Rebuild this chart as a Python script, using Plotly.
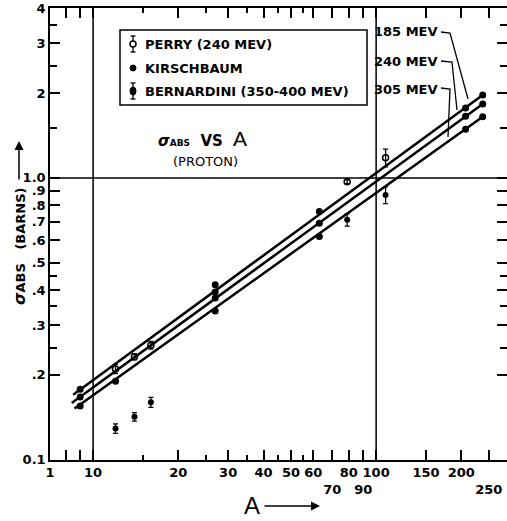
import math
import plotly.graph_objects as go

# ---------------- data ----------------
kir_A = [9, 9, 9, 12, 27, 27, 27, 27, 63, 63, 63, 207, 207, 207, 238, 238, 238]
kir_sigma = [0.178, 0.167, 0.155, 0.19, 0.418, 0.394, 0.375, 0.337,
             0.76, 0.69, 0.62, 1.77, 1.655, 1.49, 1.97, 1.83, 1.65]

perry_A = [12, 14, 16, 79, 108]
perry_sigma = [0.21, 0.232, 0.255, 0.97, 1.18]
perry_err = [0.008, 0.006, 0.008, 0.015, 0.085]

bern_A = [12, 14, 16, 79, 108]
bern_sigma = [0.129, 0.142, 0.160, 0.71, 0.87]
bern_err = [0.005, 0.005, 0.0065, 0.035, 0.06]

legend_labels = ["PERRY (240 MEV)", "KIRSCHBAUM", "BERNARDINI (350-400 MEV)"]

fit_labels = ["185 MEV", "240 MEV", "305 MEV"]
fit_A = [[8.5, 238], [8.4, 238], [8.6, 238]]
fit_sigma = [[0.170, 1.97], [0.159, 1.83], [0.152, 1.65]]

x_tickvals = [7.05, 8, 9, 10, 20, 30, 40, 50, 60, 70, 80, 90, 100, 150, 200, 250]
x_ticktext = ["1", "", "", "10", "20", "30", "40", "50", "60", "<br>70", "80",
              "<br>90", "100", "150", "200", "<br>250"]
x_minor = [15, 25, 35, 45, 55]

y_tickvals = [0.1, 0.2, 0.3, 0.4, 0.5, 0.6, 0.7, 0.8, 0.9, 1, 2, 3, 4]
y_ticktext = ["0.1", ".2", ".3", ".4", ".5", ".6", ".7", ".8", ".9", "1.0", "2", "3", "4"]
y_minor = [0.25, 0.35, 0.45, 1.5, 2.5, 3.5]

grid_A = [10, 100]
grid_sigma = [1.0]

x_min, x_max = 7.05, 290
y_min, y_max = 0.1, 4

# ---------------- layout helpers ----------------
W, H = 507, 521
ML, MR, MT, MB = 50, 0, 8, 61
PW, PH = W - ML - MR, H - MT - MB


def px(x):
    return (x - ML) / PW


def py(y):
    return (H - MB - y) / PH


FONT = "DejaVu Sans"
BOLD = dict(family=FONT, size=13, color="black", weight="bold")
fig = go.Figure()

# grid lines at 10, 100 and 1.0
for a in grid_A:
    fig.add_trace(go.Scatter(x=[a, a], y=[y_min * 0.99, y_max * 1.01], mode="lines",
                             line=dict(color="black", width=1.5), showlegend=False,
                             hoverinfo="skip"))
for s in grid_sigma:
    fig.add_trace(go.Scatter(x=[x_min * 0.99, x_max * 1.01], y=[s, s], mode="lines",
                             line=dict(color="black", width=1.5), showlegend=False,
                             hoverinfo="skip"))

# fit lines
for lab, xa, ys in zip(fit_labels, fit_A, fit_sigma):
    fig.add_trace(go.Scatter(x=xa, y=ys, mode="lines", name=lab,
                             line=dict(color="black", width=2.5), showlegend=False))

# data
fig.add_trace(go.Scatter(
    x=perry_A, y=perry_sigma, mode="markers", name=legend_labels[0], showlegend=False,
    marker=dict(symbol="circle-open", size=6, color="black", line=dict(width=1.5)),
    error_y=dict(type="data", array=perry_err, color="black", thickness=1.3, width=2.5)))
fig.add_trace(go.Scatter(
    x=kir_A, y=kir_sigma, mode="markers", name=legend_labels[1], showlegend=False,
    marker=dict(symbol="circle", size=7, color="black")))
fig.add_trace(go.Scatter(
    x=bern_A, y=bern_sigma, mode="markers", name=legend_labels[2], showlegend=False,
    marker=dict(symbol="circle", size=6, color="black"),
    error_y=dict(type="data", array=bern_err, color="black", thickness=1.3, width=2.5)))

axis_common = dict(
    type="log", showgrid=False, zeroline=False, showline=True, linecolor="black",
    linewidth=1.5, mirror="ticks", ticks="inside", ticklen=10, tickwidth=1.5,
    tickcolor="black", tickmode="array", automargin=False, tickangle=0,
    tickfont=dict(family=FONT, size=13, color="black", weight="bold"),
)

fig.update_xaxes(
    **axis_common,
    range=[math.log10(x_min) - 0.0005, math.log10(x_max)],
    tickvals=x_tickvals, ticktext=x_ticktext,
    minor=dict(tickmode="array", tickvals=x_minor, ticks="inside", ticklen=5,
               tickwidth=1.5, tickcolor="black"),
)
fig.update_yaxes(
    **axis_common,
    range=[math.log10(y_min) - 0.001, math.log10(y_max) + 0.001],
    tickvals=y_tickvals, ticktext=y_ticktext,
    minor=dict(tickmode="array", tickvals=y_minor, ticks="inside", ticklen=7,
               tickwidth=1.5, tickcolor="black"),
)

annotations = []
shapes = []


def note(x, y, text, font, xanchor="center", **kw):
    d = dict(x=px(x), y=py(y), xref="paper", yref="paper", text=text,
             showarrow=False, font=font, xanchor=xanchor, yanchor="middle")
    d.update(kw)
    annotations.append(d)


# ---- manual legend box ----
shapes.append(dict(type="rect", xref="paper", yref="paper",
                   x0=px(120), x1=px(367), y0=py(105), y1=py(30),
                   line=dict(color="black", width=1.5), fillcolor="white", layer="above"))
leg_rows = [44, 68, 91]
for lab, yy in zip(legend_labels, leg_rows):
    note(143, yy, lab, BOLD, xanchor="left")
sx = 133
# Perry symbol: open circle with error bar
shapes.append(dict(type="line", xref="paper", yref="paper", x0=px(sx), x1=px(sx),
                   y0=py(36), y1=py(52), line=dict(color="black", width=1.3)))
for yy in (36, 52):
    shapes.append(dict(type="line", xref="paper", yref="paper", x0=px(sx - 2.5),
                       x1=px(sx + 2.5), y0=py(yy), y1=py(yy),
                       line=dict(color="black", width=1.3)))
shapes.append(dict(type="circle", xref="paper", yref="paper", x0=px(sx - 3),
                   x1=px(sx + 3), y0=py(41), y1=py(47), fillcolor="white",
                   line=dict(color="black", width=1.5)))
# Kirschbaum symbol
shapes.append(dict(type="circle", xref="paper", yref="paper", x0=px(sx - 3),
                   x1=px(sx + 3), y0=py(65), y1=py(71), fillcolor="black",
                   line=dict(color="black", width=1)))
# Bernardini symbol
shapes.append(dict(type="line", xref="paper", yref="paper", x0=px(sx), x1=px(sx),
                   y0=py(83), y1=py(99), line=dict(color="black", width=1.3)))
for yy in (83, 99):
    shapes.append(dict(type="line", xref="paper", yref="paper", x0=px(sx - 2.5),
                       x1=px(sx + 2.5), y0=py(yy), y1=py(yy),
                       line=dict(color="black", width=1.3)))
shapes.append(dict(type="circle", xref="paper", yref="paper", x0=px(sx - 3),
                   x1=px(sx + 3), y0=py(87), y1=py(95), fillcolor="black",
                   line=dict(color="black", width=1)))

# MEV labels
for lab, yy in zip(fit_labels, [32, 61, 89]):
    note(440, yy, lab, BOLD, xanchor="right")

# title
note(156, 141, "<i>σ</i><span style='font-size:9px'>ABS</span>  VS",
     dict(family=FONT, size=15, color="black", weight="bold"), xanchor="left")
note(240, 139, "A", dict(family="Liberation Sans", size=21, color="black"))
note(205, 161, "(PROTON)", dict(family=FONT, size=13, color="black"))

# y axis title
note(19, 247, "<span style='font-size:16px'><i>σ</i></span>ABS   (BARNS)", BOLD,
     textangle=-90)
annotations.append(dict(x=px(19), y=py(141), xref="paper", yref="paper", text="",
                        showarrow=True, ax=0, ay=40, arrowhead=2, arrowsize=1.2,
                        arrowwidth=1.5, arrowcolor="black"))
# x axis title
note(252, 505, "A", dict(family="Liberation Sans", size=24, color="black"))
annotations.append(dict(x=px(320), y=py(506), xref="paper", yref="paper", text="",
                        showarrow=True, ax=-57, ay=0, arrowhead=2, arrowsize=1.2,
                        arrowwidth=1.5, arrowcolor="black"))

# leader lines from labels to fit lines
leaders = [[(441, 32), (450, 33), (468, 99)],
           [(441, 61), (452, 62), (457, 110)],
           [(441, 88), (450, 89), (448, 137)]]
for pts in leaders:
    path = "M " + " L ".join(f"{px(a):.4f},{py(b):.4f}" for a, b in pts)
    shapes.append(dict(type="path", xref="paper", yref="paper", path=path,
                       line=dict(color="black", width=1.3)))

fig.update_layout(
    width=W, height=H,
    margin=dict(l=ML, r=MR, t=MT, b=MB, pad=0, autoexpand=False),
    plot_bgcolor="white", paper_bgcolor="white",
    showlegend=False,
    annotations=annotations,
    shapes=shapes,
)

fig.write_html(
    "out.html",
    config={"displayModeBar": False},
    post_script="document.body.style.margin='0';document.body.style.overflow='hidden';",
)
